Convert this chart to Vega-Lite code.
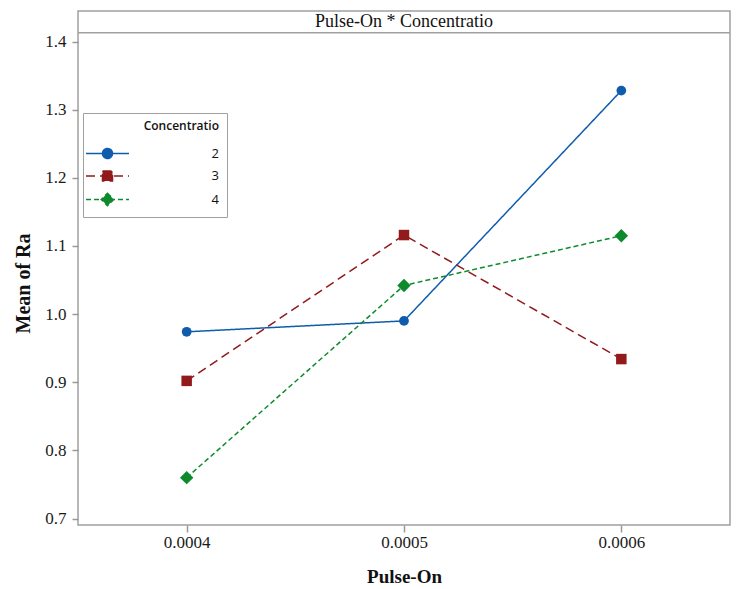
{
  "$schema": "https://vega.github.io/schema/vega-lite/v6.json",
  "width": 652,
  "height": 514,
  "autosize": {"type": "none"},
  "padding": {"left": 78, "top": 11, "right": 8, "bottom": 64},
  "background": "white",
  "config": {
    "view": {"stroke": "#a0a0a0", "strokeWidth": 1.5},
    "axis": {"grid": false, "domain": false, "tickColor": "#999999", "tickWidth": 1.5, "labelFont": "Liberation Serif", "labelFontSize": 17, "labelColor": "#1a1a1a", "titleFont": "Liberation Serif", "titleFontWeight": "bold", "titleColor": "#111111"}
  },
  "datasets": {
    "means": [
      {"PulseOn": 0.0004, "Concentratio": 2, "Mean": 0.974},
      {"PulseOn": 0.0005, "Concentratio": 2, "Mean": 0.990},
      {"PulseOn": 0.0006, "Concentratio": 2, "Mean": 1.328},
      {"PulseOn": 0.0004, "Concentratio": 3, "Mean": 0.902},
      {"PulseOn": 0.0005, "Concentratio": 3, "Mean": 1.116},
      {"PulseOn": 0.0006, "Concentratio": 3, "Mean": 0.934},
      {"PulseOn": 0.0004, "Concentratio": 4, "Mean": 0.760},
      {"PulseOn": 0.0005, "Concentratio": 4, "Mean": 1.042},
      {"PulseOn": 0.0006, "Concentratio": 4, "Mean": 1.115}
    ],
    "header": [{"label": "Pulse-On * Concentratio"}]
  },
  "layer": [
    {
      "data": {"name": "means"},
      "mark": {"type": "line", "strokeWidth": 1.5},
      "encoding": {
        "x": {"field": "PulseOn", "type": "quantitative", "scale": {"domain": [0.00035, 0.00065], "nice": false, "zero": false},
          "axis": {"values": [0.0004, 0.0005, 0.0006], "format": ".4f", "tickSize": 7, "labelPadding": 2, "labelFont": "Liberation Serif", "labelFontSize": 17, "title": "Pulse-On", "titleFontSize": 19, "titlePadding": 17}},
        "y": {"field": "Mean", "type": "quantitative", "scale": {"domain": [0.6905, 1.4448], "nice": false, "zero": false},
          "axis": {"values": [0.7, 0.8, 0.9, 1.0, 1.1, 1.2, 1.3, 1.4], "format": ".1f", "tickSize": 6, "labelPadding": 6, "labelFont": "Liberation Serif", "labelFontSize": 17, "title": "Mean of Ra", "titleFontSize": 20, "titlePadding": 11, "titleY": 272}},
        "color": {"field": "Concentratio", "type": "nominal", "scale": {"domain": [2, 3, 4], "range": ["#0F5CAD", "#921A1A", "#0D8A2B"]},
          "legend": {"orient": "none", "legendX": 5, "legendY": 102, "title": "Concentratio", "fillColor": "white", "strokeColor": "#a0a0a0", "padding": 8,
            "titleFont": "Open Sans", "titleFontWeight": 600, "titleFontSize": 12, "titleColor": "#111111", "titleAnchor": "end", "titlePadding": 14,
            "labelFont": "Open Sans", "labelFontSize": 13, "labelColor": "#111111", "labelAlign": "right", "labelOffset": 105,
            "symbolSize": 100, "symbolStrokeWidth": 1.5, "symbolOffset": 10, "rowPadding": 5.5,
            "encode": {"symbols": {"update": {"shape": {"signal": "datum.value == 2 ? 'M-4.3,0H4.3M1,0A1,1,0,1,1,-1,0A1,1,0,1,1,1,0Z' : datum.value == 3 ? 'M-4.3,0H4.3M-1,-1H1V1H-1Z' : 'M-4.3,0H4.3M0,-1.25L1.25,0L0,1.25L-1.25,0Z'"}}}}}},
        "strokeDash": {"field": "Concentratio", "type": "nominal", "scale": {"domain": [2, 3, 4], "range": [[1, 0], [9, 5], [5, 3]]}}
      }
    },
    {
      "data": {"name": "means"},
      "transform": [{"filter": "datum.Concentratio == 2"}],
      "mark": {"type": "point", "filled": true, "opacity": 1, "shape": "circle", "size": 95},
      "encoding": {
        "x": {"field": "PulseOn", "type": "quantitative"},
        "y": {"field": "Mean", "type": "quantitative"},
        "color": {"field": "Concentratio", "type": "nominal"}
      }
    },
    {
      "data": {"name": "means"},
      "transform": [{"filter": "datum.Concentratio == 3"}],
      "mark": {"type": "point", "filled": true, "opacity": 1, "shape": "square", "size": 110},
      "encoding": {
        "x": {"field": "PulseOn", "type": "quantitative"},
        "y": {"field": "Mean", "type": "quantitative"},
        "color": {"field": "Concentratio", "type": "nominal"}
      }
    },
    {
      "data": {"name": "means"},
      "transform": [{"filter": "datum.Concentratio == 4"}],
      "mark": {"type": "point", "filled": true, "opacity": 1, "shape": "diamond", "size": 180},
      "encoding": {
        "x": {"field": "PulseOn", "type": "quantitative"},
        "y": {"field": "Mean", "type": "quantitative"},
        "color": {"field": "Concentratio", "type": "nominal"}
      }
    },
    {
      "data": {"name": "header"},
      "mark": {"type": "rule", "color": "#a0a0a0", "strokeWidth": 1.5},
      "encoding": {"y": {"datum": 1.4129, "type": "quantitative"}}
    },
    {
      "data": {"name": "header"},
      "mark": {"type": "text", "font": "Liberation Serif", "fontSize": 18, "baseline": "middle", "align": "center", "color": "#111111"},
      "encoding": {"x": {"datum": 0.0005, "type": "quantitative"}, "y": {"datum": 1.429, "type": "quantitative"}, "text": {"field": "label"}}
    }
  ]
}
